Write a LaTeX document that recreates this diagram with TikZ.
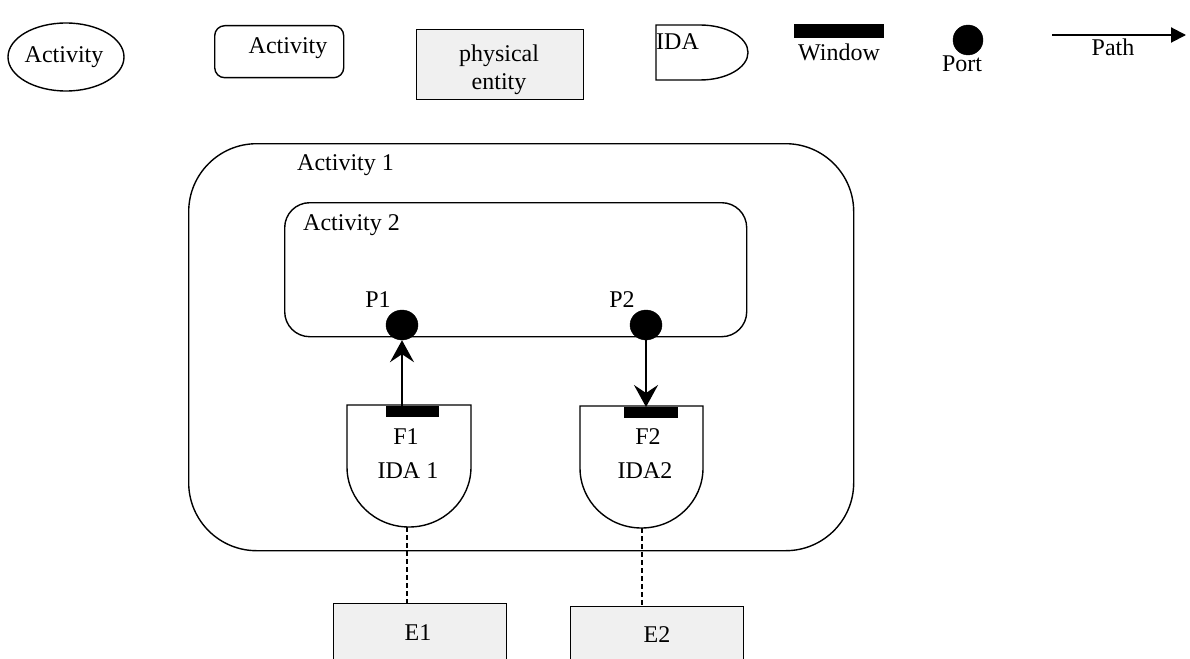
\documentclass[tikz,border=0pt]{standalone}
\usepackage{fontspec}
\setmainfont{Liberation Serif}
\usetikzlibrary{shapes.geometric,arrows.meta}
\definecolor{entityfill}{RGB}{240,240,240}
\tikzset{
  every node/.style={font=\fontsize{24}{28}\selectfont, inner sep=0pt},
  line/.style={line width=1.4pt},
  activitybox/.style={draw, line width=1.4pt, rectangle, anchor=north west},
  entitybox/.style={draw, line width=1.2pt, fill=entityfill, rectangle, anchor=north west},
  port/.style={draw, fill=black, ellipse, minimum width=32pt, minimum height=30pt},
  window/.style={fill=black, rectangle, inner sep=0pt},
  flow/.style={line width=2pt, -{Stealth[length=22pt,width=24pt,inset=8pt]}},
  link/.style={line width=1.2pt, dashed, dash pattern=on 5pt off 3pt},
}
\begin{document}
\begin{tikzpicture}[x=1pt,y=-1pt]
\useasboundingbox (0,0) rectangle (1190,658);
\clip (0,0) rectangle (1190,658);

% ---- legend ----
\node[draw, line width=1.4pt, ellipse, minimum width=116pt, minimum height=68pt] (legact) at (66,57) {};
\node (legacttext) at (64,57) {Activity};

\node[activitybox, rounded corners=10pt, minimum width=129pt, minimum height=52pt] (legbox) at (214,25) {};
\node (legboxtext) at (288,48) {Activity};

\node[entitybox, minimum width=167pt, minimum height=70pt] (legent) at (416,29) {};
\node[align=center, font=\fontsize{24}{28}\selectfont] (legenttext) at (499,70) {physical\\entity};

\draw[line] (656,25) -- (700,25) arc[start angle=-90, end angle=90, x radius=48, y radius=27.5] -- (656,80) -- cycle;
\node[anchor=west] (legida) at (656,42) {IDA};

\node[window, minimum width=90pt, minimum height=14pt, anchor=north west] (legwin) at (794,24) {};
\node (legwintext) at (839,52) {Window};

\node[port, minimum width=30pt, minimum height=30pt] (legport) at (968,40) {};
\node (legporttext) at (962,64) {Port};

\coordinate (pathstart) at (1052,35);
\coordinate (pathend) at (1186,35);
\draw[line width=2pt, -{Triangle[length=15pt,width=15pt]}] (pathstart) -- (pathend);
\node (pathtext) at (1113,47) {Path};

% ---- activities ----
\node[activitybox, rounded corners=68pt, minimum width=665pt, minimum height=407pt] (act1) at (188,143) {};
\node[anchor=west] (act1text) at (297,165) {Activity 1};

\node[activitybox, rounded corners=25pt, minimum width=462pt, minimum height=134pt] (act2) at (284,202) {};
\node[anchor=west] (act2text) at (303,225) {Activity 2};

% ports
\node[port] (p1) at (402,325) {};
\node (p1text) at (378,300) {P1};
\node[port] (p2) at (646,325) {};
\node (p2text) at (622,300) {P2};

% IDA shapes
\draw[line] (347,405) -- (471,405) -- (471,467)
  arc[start angle=0, end angle=180, x radius=62, y radius=60] -- cycle;
\coordinate (ida1bottom) at (407,527);
\draw[line] (580,406) -- (703,406) -- (703,468)
  arc[start angle=0, end angle=180, x radius=61.5, y radius=60] -- cycle;
\coordinate (ida2bottom) at (642,528);

% windows
\node[window, minimum width=53pt, minimum height=11pt, anchor=north west] (w1) at (386,406) {};
\node[window, minimum width=54pt, minimum height=11pt, anchor=north west] (w2) at (624,407) {};

\node (f1) at (406,437) {F1};
\node (ida1text) at (408,471) {IDA 1};
\node (f2) at (648,437) {F2};
\node (ida2text) at (645,471) {IDA2};

% paths between windows and ports
\draw[flow] (p1.south |- w1.north) -- (p1.south);
\draw[flow] (p2.south) -- (p2.south |- w2.north);

% physical entities
\node[entitybox, minimum width=173pt, minimum height=62pt] (e1) at (333,603) {};
\node (e1text) at (418,633) {E1};
\node[entitybox, minimum width=173pt, minimum height=62pt] (e2) at (570,606) {};
\node (e2text) at (657,635) {E2};

\draw[link] (ida1bottom) -- (ida1bottom |- e1.north);
\draw[link] (ida2bottom) -- (ida2bottom |- e2.north);
\end{tikzpicture}
\end{document}
